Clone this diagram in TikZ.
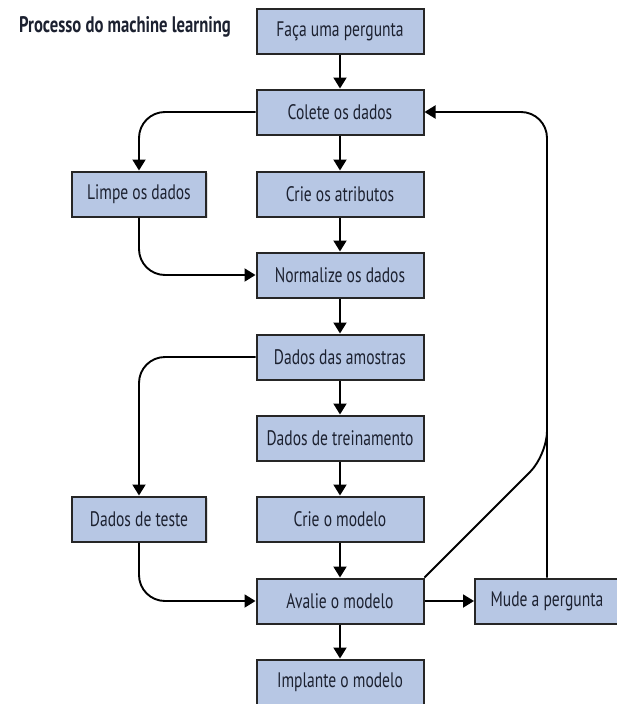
\documentclass[tikz,border=0pt]{standalone}
\usepackage{fontspec}
\setmainfont[FakeStretch=0.74]{PT Sans}
\usepackage{tikz}
\usetikzlibrary{arrows.meta, positioning, shadows}
\tikzset{>={Triangle[length=11pt,width=13pt]}}
\definecolor{boxfill}{RGB}{183,199,228}
\definecolor{boxtext}{RGB}{28,33,48}
\tikzset{
  caixa/.style={draw=black!85, fill=boxfill, line width=2pt, minimum width=167pt, minimum height=45pt,
    text=boxtext, font=\fontsize{21}{24}\selectfont, inner sep=2pt,
    drop shadow={opacity=0.25, shadow xshift=1.5pt, shadow yshift=-1.5pt}},
  caixaE/.style={caixa, minimum width=134pt},
  seta/.style={->, line width=1.9pt},
}

\begin{document}
\begin{tikzpicture}[x=1pt, y=-1pt]
	\useasboundingbox (0,0) rectangle (616,704);
	\node[font=\bfseries\fontsize{22.5}{25}\selectfont, text=boxtext] (T1) at (125,27) {Processo do machine learning};
	\node[caixa] (P1) at (340,31) {Faça uma pergunta};
	\node[caixa] (C1) at (340,112) {Colete os dados};
	\node[caixaE] (L1) at (139,194) {Limpe os dados};
	\node[caixa] (A1) at (340,194) {Crie os atributos};
	\node[caixa] (N1) at (340,275) {Normalize os dados};
	\node[caixa] (D1) at (340,357) {Dados das amostras};
	\node[caixa] (D2) at (340,438) {Dados de treinamento};
	\node[caixaE] (D3) at (139,519) {Dados de teste};
	\node[caixa] (M1) at (340,519) {Crie o modelo};
	\node[caixa] (M2) at (340,601) {Avalie o modelo};
	\node[caixa, minimum width=144pt] (M3) at (547,601) {Mude a pergunta};
	\node[caixa] (M4) at (340,682) {Implante o modelo};
	\draw[seta] (P1)--(C1); \draw[seta] (C1)--(A1); \draw[seta] (A1)--(N1);
	\draw[seta] (N1)--(D1); \draw[seta] (D1)--(D2); \draw[seta] (D2)--(M1);
	\draw[seta] (M1)--(M2); \draw[seta] (M2)--(M4); \draw[seta] (M2)--(M3);
	\draw[seta, rounded corners=26pt] (C1.west) -| (L1.north);
	\draw[seta, rounded corners=26pt] (L1.south) |- (N1.west);
	\draw[seta, rounded corners=26pt] (D1.west) -| (D3.north);
	\draw[seta, rounded corners=26pt] (D3.south) |- (M2.west);
	\draw[seta, rounded corners=26pt] (M3.north) |- (C1.east);
	% ligacao diagonal da avaliacao
	\coordinate (J1) at (M3.north |- 0,455);
	\draw[line width=1.9pt, rounded corners=24pt] (M2.north east) -- (J1) -- ++(0,-45);
\end{tikzpicture}
\end{document}
